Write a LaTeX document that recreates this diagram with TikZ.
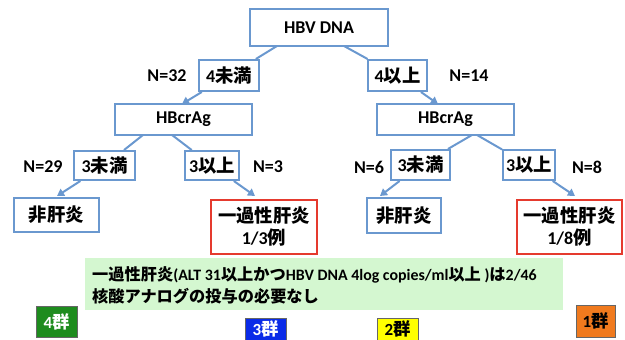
\documentclass[tikz,border=0pt]{standalone}
\usepackage{fontspec}
\setmainfont{Carlito}[BoldFont={Carlito Bold}]
\newfontfamily\jp{Noto Sans CJK JP Bold}[Scale=1.02]
\usetikzlibrary{arrows.meta}
\definecolor{bblue}{HTML}{6A98CF}
\definecolor{rred}{HTML}{E53A2E}
\definecolor{lgreen}{HTML}{D4F7D0}
\definecolor{g4}{HTML}{1E8C1E}
\definecolor{g3}{HTML}{0A2BE8}
\definecolor{g2}{HTML}{FFFF00}
\definecolor{g1}{HTML}{F07A1E}
\tikzset{
  bx/.style={draw=bblue, line width=2pt, fill=white, inner sep=0pt, font=\fontsize{18}{20}\selectfont\bfseries},
  rbx/.style={draw=rred, line width=2pt, fill=white, inner sep=0pt, align=center, font=\fontsize{18}{22}\selectfont\bfseries},
  nlab/.style={font=\fontsize{18}{20}\selectfont\bfseries, inner sep=0pt},
  conn/.style={draw=bblue, line width=2pt},
  arr/.style={draw=bblue, line width=2pt, -{Triangle[length=7pt,width=8pt]}},
  grp/.style={draw=black!60, line width=0.6pt, inner sep=0pt, font=\fontsize{17}{18}\selectfont\bfseries},
}
\begin{document}
\begin{tikzpicture}[x=1pt,y=-1pt]
\useasboundingbox (0,0) rectangle (625,340);
% top level
\node[bx, minimum width=138pt, minimum height=37pt] (hbv) at (319,27.5) {HBV DNA};
\node[bx, minimum width=60pt, minimum height=31pt] (l4) at (229,75.5) {4{\jp 未満}};
\node[bx, minimum width=59pt, minimum height=31pt] (r4) at (397.5,75.5) {4{\jp 以上}};
\node[nlab] (n32) at (167,76) {N=32};
\node[nlab] (n14) at (469,76) {N=14};
% second level
\node[bx, minimum width=137pt, minimum height=31pt] (hbL) at (183.5,119.5) {HBcrAg};
\node[bx, minimum width=137pt, minimum height=31pt] (hbR) at (445.5,119.5) {HBcrAg};
\node[bx, minimum width=61pt, minimum height=29pt] (la) at (104.5,165.5) {3{\jp 未満}};
\node[bx, minimum width=54pt, minimum height=29pt] (lb) at (212,165.5) {3{\jp 以上}};
\node[bx, minimum width=59pt, minimum height=30pt] (ra) at (420.5,165) {3{\jp 未満}};
\node[bx, minimum width=52pt, minimum height=30pt] (rb) at (529,165) {3{\jp 以上}};
\node[nlab] (n29) at (43,167) {N=29};
\node[nlab] (n3) at (268,167) {N=3};
\node[nlab] (n6) at (369,167) {N=6};
\node[nlab] (n8) at (587,167) {N=8};
% leaves
\node[bx, minimum width=85pt, minimum height=34pt] (nonL) at (56.5,215) {\jp 非肝炎};
\node[rbx, minimum width=106pt, minimum height=54pt] (hepL) at (264,227) {{\jp 一過性肝炎}\\1/3{\jp 例}};
\node[bx, minimum width=74pt, minimum height=35pt] (nonR) at (404,215.5) {\jp 非肝炎};
\node[rbx, minimum width=105pt, minimum height=54pt] (hepR) at (569.5,227) {{\jp 一過性肝炎}\\1/8{\jp 例}};
% connector points
\coordinate (a1) at (277,46); \coordinate (a2) at (182,104);
\coordinate (b1) at (344,46); \coordinate (b2) at (438,104);
\coordinate (c1) at (143,135); \coordinate (c2) at (57,196);
\coordinate (d1) at (172,135); \coordinate (d2) at (255,196);
\coordinate (e1) at (472,135); \coordinate (e2) at (380,196);
\coordinate (f1) at (477,135); \coordinate (f2) at (575,196);
\draw[conn] (a1) -- (l4); \draw[arr] (l4) -- (a2);
\draw[conn] (b1) -- (r4); \draw[arr] (r4) -- (b2);
\draw[conn] (c1) -- (la); \draw[arr] (la) -- (c2);
\draw[conn] (d1) -- (lb); \draw[arr] (lb) -- (d2);
\draw[conn] (e1) -- (ra); \draw[arr] (ra) -- (e2);
\draw[conn] (f1) -- (rb); \draw[arr] (rb) -- (f2);
% note band
\node[fill=lgreen, minimum width=478pt, minimum height=52pt, inner sep=0pt] (band) at (324,284) {};
\node[anchor=west, align=left, inner sep=0pt, font=\fontsize{15.9}{22}\selectfont\bfseries] (note) at (92,285)
  {{\jp 一過性肝炎}(ALT 31{\jp 以上かつ}HBV DNA 4log copies/ml{\jp 以上} ){\jp は}2/46\\{\jp 核酸アナログの投与の必要なし}};
% groups
\node[grp, fill=g4, text=white, minimum width=41pt, minimum height=31pt] (grp4) at (56.5,321.5) {4{\jp 群}};
\node[grp, fill=g3, text=white, minimum width=41pt, minimum height=22pt] (grp3) at (265.5,329) {3{\jp 群}};
\node[grp, fill=g2, text=black, minimum width=41pt, minimum height=22pt] (grp2) at (397.5,329) {2{\jp 群}};
\node[grp, fill=g1, text=black, minimum width=39pt, minimum height=32pt] (grp1) at (595.5,321) {1{\jp 群}};
\end{tikzpicture}
\end{document}
